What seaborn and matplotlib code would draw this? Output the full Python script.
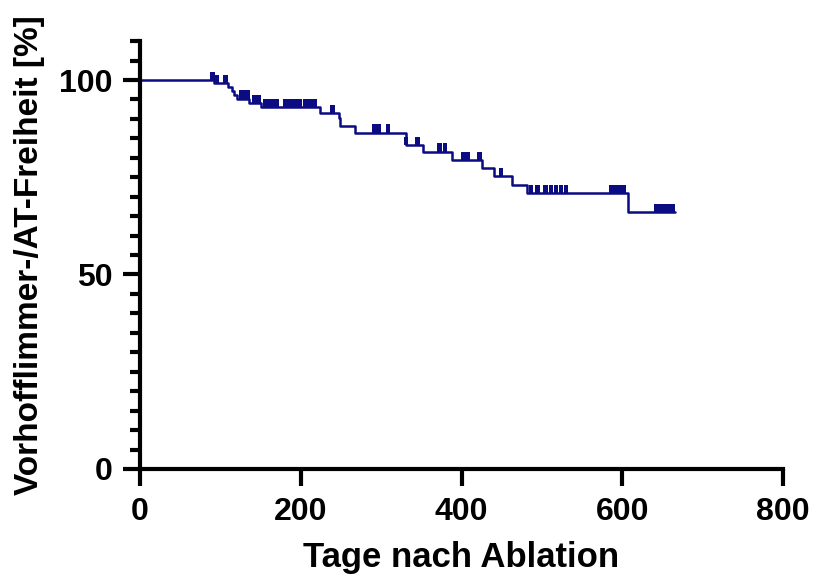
import numpy as np
import pandas as pd
import matplotlib
matplotlib.use("Agg")
import matplotlib.pyplot as plt
from matplotlib.path import Path
from matplotlib.markers import MarkerStyle
import seaborn as sns

# Kaplan-Meier Schätzung: Zeitpunkte der Stufen und Überlebensrate danach
step_days = [0, 92.5, 110, 114, 117, 121, 135, 151, 224, 247, 249, 267, 331, 352,
             388, 426, 440, 463, 481, 607, 666]
step_surv = [100, 99.2, 98.2, 97.2, 96.2, 95.2, 94.1, 93.0, 91.4, 90.2, 88.3, 86.5,
             83.2, 81.6, 79.4, 77.3, 75.2, 73.1, 70.9, 66.1, 66.1]

# zensierte Patienten (Tage, Niveau)
cens_days = [90, 95, 106, 125.7, 130, 134.4, 142, 148,
             155.5, 160.5, 165.5, 170.5, 181, 186.6, 192, 198, 206, 211.5, 217,
             239.5, 292, 297, 308.5, 331, 345, 373, 379.5, 402, 407, 422, 449,
             486.5, 494.6, 504, 511.4, 517.6, 523.8, 530, 587, 592, 597, 602,
             643, 648, 653, 658, 663]
cens_surv = [100, 99.2, 99.2, 95.2, 95.2, 95.2, 94.1, 94.1,
             93.0, 93.0, 93.0, 93.0, 93.0, 93.0, 93.0, 93.0, 93.0, 93.0, 93.0,
             91.4, 86.5, 86.5, 86.5, 83.2, 83.2, 81.6, 81.6, 79.4, 79.4, 79.4, 75.2,
             70.9, 70.9, 70.9, 70.9, 70.9, 70.9, 70.9, 70.9, 70.9, 70.9, 70.9,
             66.1, 66.1, 66.1, 66.1, 66.1]

x_ticks = [0, 200, 400, 600, 800]
y_ticks = [0, 50, 100]

km = pd.DataFrame({"Tage": step_days, "Freiheit": step_surv})
cens = pd.DataFrame({"Tage": cens_days, "Freiheit": cens_surv})

sns.set_style("ticks")
plt.rcParams["font.family"] = ["Liberation Sans", "DejaVu Sans"]
plt.rcParams["font.weight"] = "bold"
plt.rcParams["text.color"] = "black"
plt.rcParams["axes.labelcolor"] = "black"

color = "#0b0b82"

fig = plt.figure(figsize=(8.14, 5.79), dpi=100)
ax = fig.add_axes([0.172, 0.19, 0.79, 0.739])

sns.lineplot(data=km, x="Tage", y="Freiheit", drawstyle="steps-post",
             estimator=None, color=color, linewidth=1.8, ax=ax)

tick_marker = MarkerStyle(Path([(-2, 0), (2, 0), (2, 7), (-2, 7), (-2, 0)]))
sns.scatterplot(data=cens, x="Tage", y="Freiheit", marker=tick_marker, s=144,
                color=color, edgecolor="none", linewidth=0, ax=ax, zorder=3)

ax.set_xlim(0, 800)
ax.set_ylim(0, 110)
ax.set_xticks(x_ticks)
ax.set_yticks(y_ticks)
ax.set_yticks(np.arange(5, 111, 5), minor=True)

sns.despine(ax=ax)
for side in ["left", "bottom"]:
    ax.spines[side].set_linewidth(3)
    ax.spines[side].set_color("black")

ax.tick_params(axis="both", which="major", length=12, width=3, pad=8,
               labelsize=23, colors="black")
ax.tick_params(axis="y", which="minor", length=7, width=3, color="black")
for lab in ax.get_xticklabels() + ax.get_yticklabels():
    lab.set_fontweight("bold")

ax.set_xlabel("Tage nach Ablation", fontsize=25, fontweight="bold", labelpad=10)
ax.set_ylabel("Vorhofflimmer-/AT-Freiheit [%]", fontsize=24, fontweight="bold", labelpad=10)

fig.savefig("out.png", dpi=100)
